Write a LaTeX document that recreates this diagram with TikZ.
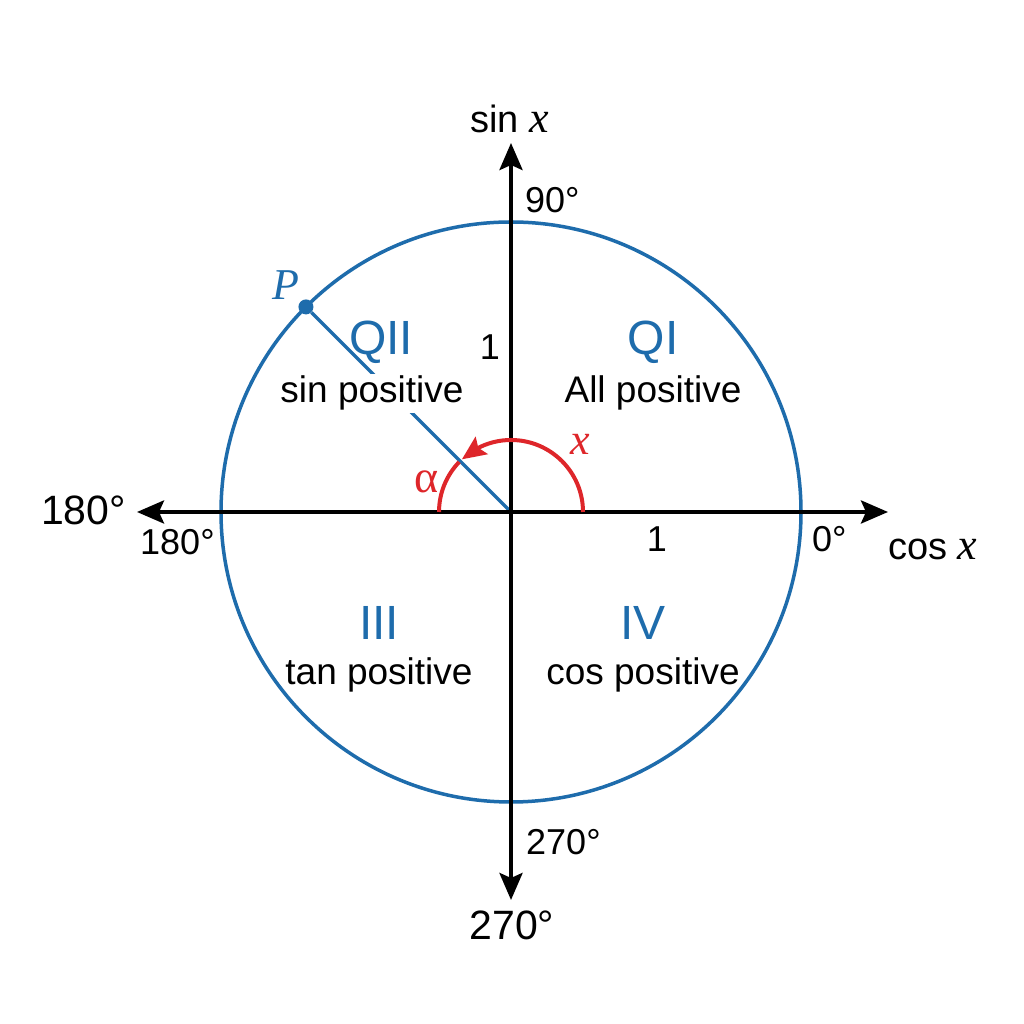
\documentclass[tikz,border=0pt]{standalone}
\usepackage{fontspec}
\setmainfont{Liberation Sans}
\newfontfamily\tms{Liberation Serif}
\usetikzlibrary{arrows.meta,bending,calc}
\definecolor{qblue}{RGB}{30,108,172}
\definecolor{qred}{RGB}{222,38,42}
\tikzset{
  axisline/.style={line width=4pt, black, {Stealth[length=27pt,width=23pt,inset=5pt]}-{Stealth[length=27pt,width=23pt,inset=5pt]}},
  biglab/.style={font=\fontsize{41}{44}\selectfont, inner sep=0pt},
  smalllab/.style={font=\fontsize{36}{40}\selectfont, inner sep=0pt},
  axlab/.style={font=\fontsize{38}{42}\selectfont, inner sep=0pt},
  quadlab/.style={font=\fontsize{48}{52}\selectfont, text=qblue, inner sep=0pt},
  desclab/.style={font=\fontsize{37}{40}\selectfont, inner sep=0pt},
  varlab/.style={font=\fontsize{44}{48}\selectfont\tms\itshape, inner sep=0pt},
}
\begin{document}
\begin{tikzpicture}[x=1pt,y=1pt]
\useasboundingbox (0,0) rectangle (1024,1024);
\fill[white] (0,0) rectangle (1024,1024);
\coordinate (O) at (511,512);
\coordinate (L) at (137,512);
\coordinate (R) at (888,512);
\coordinate (T) at (511,881);
\coordinate (B) at (511,124);
% circle
\draw[qblue, line width=3.5pt] (O) circle[radius=290pt];
% radius to P
\node[circle, fill=qblue, inner sep=0pt, minimum size=15pt] (P) at ($(O)+(135:290pt)$) {};
\draw[qblue, line width=3.5pt] (O) -- (P);
% axes
\draw[axisline] (L) -- (R);
\draw[axisline] (B) -- (T);
% red arcs
\draw[qred, line width=4pt, -{Stealth[length=24pt,width=21pt,inset=4pt,flex]}] ($(O)+(72pt,0)$) arc[start angle=0, end angle=133, radius=72pt];
\draw[qred, line width=4pt] ($(O)+(136:72pt)$) arc[start angle=136, end angle=180, radius=72pt];
% axis labels
\node[axlab, anchor=base west] (sinx) at (470,891) {sin {\tms\itshape\fontsize{44}{48}\selectfont x}};
\node[axlab, anchor=base west] (cosx) at (888,464) {cos {\tms\itshape\fontsize{44}{48}\selectfont x}};
\node[smalllab, anchor=base west] (n90) at (525,811) {90°};
\node[biglab, anchor=base west] (b180) at (41,499) {180°};
\node[smalllab, anchor=base west] (s180) at (140,469) {180°};
\node[smalllab, anchor=base west] (n0) at (812,472) {0°};
\node[smalllab, anchor=base west] (s270) at (526,169) {270°};
\node[biglab, anchor=base] (b270) at (512,84) {270°};
\node[smalllab, anchor=base] (one1) at (490,664) {1};
\node[smalllab, anchor=base] (one2) at (657,472) {1};
% quadrant labels
\node[quadlab, anchor=base] (q2) at (381,669) {QII};
\node[desclab, anchor=base, fill=white, inner sep=2pt] (d2) at (372,621) {sin positive};
\node[quadlab, anchor=base] (q1) at (653,669) {QI};
\node[desclab, anchor=base] (d1) at (653,621) {All positive};
\node[quadlab, anchor=base] (q3) at (379,384) {III};
\node[desclab, anchor=base] (d3) at (379,339) {tan positive};
\node[quadlab, anchor=base] (q4) at (643,384) {IV};
\node[desclab, anchor=base] (d4) at (643,339) {cos positive};
% variable labels
\node[varlab, text=qblue, anchor=base, font=\fontsize{44}{48}\selectfont\tms\itshape] (Plab) at (286,724) {P};
\node[varlab, text=qred, anchor=base, font=\fontsize{46}{48}\selectfont\tms] (alab) at (427,531) {α};
\node[varlab, text=qred, anchor=base] (xlab) at (580,569) {x};
\end{tikzpicture}
\end{document}
